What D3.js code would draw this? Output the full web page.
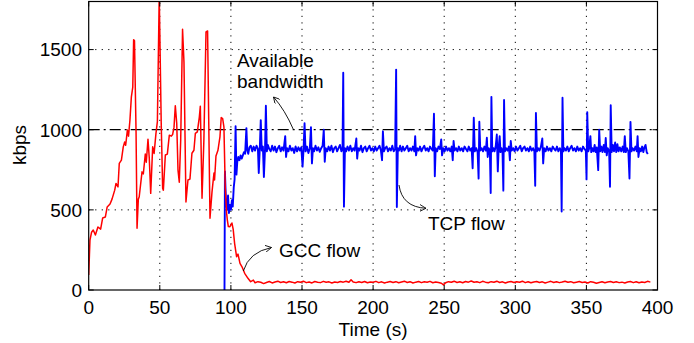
<!DOCTYPE html>
<html>
<head>
<meta charset="utf-8">
<script src="https://cdn.jsdelivr.net/npm/d3@7"></script>
<style>
  body { margin: 0; background: #fff; }
  svg text { font-family: "Liberation Sans", Arial, sans-serif; font-size: 19px; fill: #000; }
</style>
</head>
<body>
<div id="chart"></div>
<script>
// axis ticks
var xTicks = [0, 50, 100, 150, 200, 250, 300, 350, 400];
var yTicks = [0, 500, 1000, 1500];
var availableBandwidth = 1000;

// GCC flow (red): [time s, kbps]
var gccFlow = [
  [0, 94], [0.9, 312], [2, 360], [3.2, 374], [4.7, 343], [6.5, 393], [8.4, 380], [9.8, 449],
  [11.7, 455], [13, 518], [15, 536], [16.4, 567], [18.3, 623], [19.2, 665], [20.6, 643],
  [21.5, 790], [23, 810], [24.3, 893], [25.3, 924], [26, 903], [27.2, 998], [28, 960],
  [29, 1060], [30, 1205], [31, 1266], [31.6, 1562], [32.2, 1555], [33.3, 986], [34, 385],
  [34.9, 567], [35.5, 580], [37.5, 737], [38.4, 724], [39.8, 848], [40.5, 797], [41.7, 941],
  [42.6, 822], [43.6, 603], [45, 893], [46, 852], [47.3, 977], [48.3, 1050], [49.6, 1840],
  [51, 1040], [52, 635], [52.5, 623], [53.9, 842], [55.3, 848], [56.7, 966], [58.1, 960],
  [59, 970], [60, 1016], [60.9, 1150], [61.9, 1040], [62.8, 748], [63.7, 673], [64.7, 935],
  [66, 1627], [67, 1420], [68.4, 549], [69.8, 686], [71.2, 692], [72.6, 853], [74, 872],
  [75, 977], [76.4, 987], [77.8, 1079], [78.5, 1147], [79.7, 573], [81, 935], [82.5, 1610],
  [83.6, 1616], [85.3, 448], [86.7, 611], [88.1, 730], [88.5, 686], [89.5, 836], [90.9, 872],
  [92.3, 956], [93.2, 1076], [94.2, 1070], [95.1, 1016], [96, 643], [97, 479], [97.5, 436],
  [98.2, 396], [99.3, 395], [100.7, 418], [101.6, 380], [102.6, 291], [104, 208], [105, 224],
  [106.4, 166], [107.8, 145], [109.7, 104], [112, 73], [113.9, 52], [115.8, 62],
  [117, 45], [119, 52], [121, 48], [123, 40], [125, 47], [127, 53], [129, 44], [131, 50],
  [133, 55], [135, 47], [137, 51], [139, 45], [141, 53], [143, 49], [145, 44], [147, 52],
  [149, 48], [151, 55], [153, 46], [155, 50], [157, 44], [159, 53], [161, 49], [163, 46],
  [165, 54], [167, 48], [169, 51], [171, 44], [173, 50], [175, 47], [177, 53], [179, 49],
  [181, 55], [183, 48], [184.5, 64], [186, 50], [188, 46], [190, 52], [192, 47], [194, 53],
  [196, 45], [198, 50], [200, 48], [202, 54], [204, 46], [206, 51], [208, 44], [210, 49],
  [212, 53], [214, 47], [216, 52], [218, 45], [220, 50], [222, 55], [224, 47], [226, 52],
  [228, 44], [230, 49], [232, 53], [234, 46], [236, 51], [238, 48], [240, 54], [242, 45],
  [244, 50], [246, 47], [248, 42], [249.5, 32], [251, 45], [253, 52], [255, 48], [257, 55],
  [259, 47], [261, 51], [263, 45], [265, 53], [267, 49], [269, 56], [271, 48], [273, 52],
  [275, 46], [277, 54], [279, 49], [281, 45], [283, 52], [285, 48], [287, 55], [289, 47],
  [291, 51], [293, 44], [295, 50], [297, 53], [299, 47], [301, 52], [303, 48], [305, 55],
  [307, 46], [309, 51], [311, 45], [313, 50], [315, 53], [317, 47], [319, 51], [321, 44],
  [323, 49], [325, 54], [327, 47], [329, 52], [331, 46], [333, 50], [335, 55], [337, 48],
  [339, 52], [341, 45], [343, 49], [345, 53], [347, 47], [349, 50], [351, 44], [353, 52],
  [355, 48], [357, 42], [359, 47], [361, 51], [363, 45], [365, 50], [367, 53], [369, 47],
  [371, 51], [373, 46], [375, 49], [377, 44], [379, 50], [381, 53], [383, 46], [385, 51],
  [387, 45], [389, 50], [391, 47], [393, 54], [395, 49]
];

// TCP flow (blue): [time s, kbps]
var tcpFlow = [
  [95.5, 0], [95.8, 740], [96.5, 560], [97.3, 500], [98, 590], [98.6, 480], [99.3, 530],
  [100, 500], [100.7, 560], [101.3, 520], [102, 640], [102.6, 690], [103.3, 1022], [103.9, 720],
  [104.5, 800], [105.2, 830], [106, 810], [106.8, 840], [107.6, 820], [108.4, 840], [109.2, 860],
  [110, 850], [110.9, 1010], [111.5, 870], [112.2, 850], [113, 890], [114, 900], [115, 865],
  [116, 895], [117, 870], [118, 900], [119, 880], [119.6, 730], [120.3, 880], [121, 1060],
  [121.7, 870], [122.5, 895], [123.2, 705], [124, 880], [124.6, 1150], [125.3, 865], [126, 905],
  [127, 880], [128, 865], [129, 900], [130, 870], [131, 895], [132, 860], [133, 885], [134, 900],
  [135, 865], [136, 890], [137, 870], [138.2, 960], [138.8, 830], [139.5, 885], [140.5, 865],
  [141.5, 900], [142.5, 870], [143.5, 885], [144.5, 855], [145.5, 895], [146.5, 865],
  [147.5, 890], [148.5, 870], [149.5, 890], [150.4, 770], [151.1, 880], [151.8, 1040],
  [152.5, 865], [153.5, 895], [154.5, 855], [155.5, 885], [156.3, 1015], [157, 790],
  [157.7, 885], [158.5, 865], [159.5, 900], [160.5, 870], [161.5, 890], [162.5, 862],
  [163.5, 885], [164.5, 900], [165.3, 1000], [166, 800], [166.7, 885], [167.7, 865],
  [168.7, 895], [169.7, 870], [170.7, 900], [171.7, 860], [172.7, 885], [173.7, 895],
  [174.7, 865], [175.7, 885], [176.7, 905], [177.7, 865], [178.5, 880], [179, 1355],
  [179.5, 520], [180.2, 885], [181, 865], [182, 895], [183, 870], [184, 900], [185, 865],
  [186, 885], [187, 870], [188.2, 945], [188.8, 820], [189.5, 885], [190.5, 870], [191.5, 900],
  [192.5, 860], [193.5, 885], [194.5, 895], [195.5, 865], [196.5, 885], [197.5, 900],
  [198.5, 870], [199.5, 885], [200.5, 865], [201.5, 895], [202.5, 870], [203.5, 885],
  [204.5, 900], [205.5, 870], [206.3, 810], [206.9, 990], [207.6, 865], [208.5, 885],
  [209.5, 895], [210.5, 865], [211.5, 885], [212.5, 870], [213.5, 900], [214.5, 865],
  [215.5, 880], [216.2, 1375], [216.7, 518], [217.4, 885], [218.2, 870], [219, 900], [220, 865],
  [221, 895], [222, 870], [223, 885], [224, 900], [225, 865], [226, 885], [227, 870], [228, 895],
  [229, 865], [229.6, 960], [230.2, 840], [231, 885], [232, 870], [233, 895], [234, 865],
  [235, 885], [236, 900], [237, 870], [238, 885], [239, 865], [240, 895], [241, 880], [242, 870],
  [242.8, 1100], [243.4, 710], [244, 885], [245, 865], [246, 895], [247, 880], [247.9, 940],
  [248.5, 840], [249.3, 885], [250.3, 865], [251.3, 895], [252.3, 870], [253.3, 885],
  [254.3, 865], [255.3, 895], [256, 810], [256.6, 930], [257.3, 870], [258.3, 885], [259.3, 865],
  [260.3, 895], [261.3, 870], [262.3, 885], [263.3, 865], [264.3, 895], [265.3, 880],
  [266.3, 865], [267.3, 895], [268.3, 870], [269.3, 885], [270, 760], [270.8, 1075],
  [271.5, 865], [272.5, 885], [273.5, 860], [274.2, 695], [274.7, 1050], [275.4, 870],
  [276.3, 885], [277.3, 865], [278.3, 895], [279.3, 870], [280, 950], [280.6, 830], [281.3, 885],
  [282.1, 870], [282.7, 605], [283.2, 1205], [283.8, 865], [284.6, 885], [285.4, 865],
  [286.2, 895], [287, 970], [287.7, 740], [288.3, 885], [289, 960], [289.6, 860], [290.3, 885],
  [291, 865], [291.6, 620], [292.1, 1185], [292.7, 865], [293.5, 885], [294.5, 870],
  [295.5, 895], [296.2, 810], [296.8, 930], [297.5, 870], [298.5, 885], [299.5, 865],
  [300.5, 895], [301.5, 870], [302.5, 885], [303.5, 900], [304.5, 865], [305.5, 885],
  [306.5, 895], [307.5, 870], [308.5, 885], [309.5, 865], [310.5, 895], [311.5, 870],
  [312.5, 885], [313.4, 865], [314, 650], [314.5, 1105], [315.2, 865], [316, 885], [317, 870],
  [318, 895], [319, 945], [319.6, 790], [320.3, 885], [321.3, 865], [322.3, 895], [323.3, 870],
  [324.3, 885], [325.3, 865], [326.3, 895], [327.3, 880], [328.3, 870], [329.3, 895],
  [330.3, 865], [331.3, 885], [332.1, 870], [332.6, 490], [333.2, 1200], [333.8, 865],
  [334.6, 885], [335.6, 870], [336.6, 895], [337.6, 865], [338.6, 885], [339.6, 900],
  [340.6, 870], [341.6, 885], [342.6, 865], [343.6, 895], [344.6, 870], [345.6, 885],
  [346.6, 865], [347.6, 895], [348.6, 880], [349.6, 870], [350.1, 690], [350.6, 1110],
  [351.3, 865], [352, 885], [352.8, 960], [353.4, 860], [354.2, 885], [355, 865], [355.8, 905],
  [356.5, 860], [357.3, 890], [358.3, 748], [359, 1000], [359.7, 865], [360.5, 895],
  [361.3, 860], [362.2, 905], [363, 860], [363.6, 948], [364.3, 840], [365, 885], [366, 865],
  [366.6, 644], [367.1, 1153], [367.8, 860], [368.6, 905], [369.4, 865], [370.2, 920],
  [371, 860], [371.8, 910], [372.6, 865], [373.5, 890], [374.5, 865], [375.5, 895],
  [376.3, 860], [377, 960], [377.7, 860], [378.5, 885], [379.5, 865], [380.3, 696],
  [381, 1049], [381.7, 865], [382.5, 885], [383.5, 870], [384.5, 895], [385.4, 865],
  [386, 960], [386.6, 830], [387.4, 885], [388.3, 865], [389.2, 895], [390, 860], [390.8, 890],
  [391.6, 905], [392.4, 860], [393.2, 848]
];

function init() {
    const w = 694;
    const h = 343;
    const left = 88.7, right = 657.5, top = 1.5, bottom = 290;

    var svg = d3.select("#chart")
        .append("svg")
        .attr("width", w)
        .attr("height", h);

    var xScale = d3.scaleLinear().domain([0, 400]).range([left, right]);
    var yScale = d3.scaleLinear().domain([0, 1800]).range([bottom, top]);

    svg.append("defs").append("clipPath")
        .attr("id", "plot-clip")
        .append("rect")
        .attr("x", left).attr("y", top)
        .attr("width", right - left).attr("height", bottom - top);

    // dotted grid
    var grid = svg.append("g")
        .attr("stroke", "#000")
        .attr("stroke-width", 1)
        .attr("stroke-dasharray", "1.2,5.3");
    grid.selectAll("line.vx")
        .data(xTicks.filter((d) => d > 0 && d < 400))
        .enter().append("line")
        .attr("x1", (d) => xScale(d)).attr("x2", (d) => xScale(d))
        .attr("y1", bottom).attr("y2", top);
    grid.selectAll("line.hy")
        .data(yTicks.filter((d) => d > 0 && d !== availableBandwidth))
        .enter().append("line")
        .attr("x1", left).attr("x2", right)
        .attr("y1", (d) => yScale(d)).attr("y2", (d) => yScale(d));

    // available bandwidth, dash-dot
    svg.append("line")
        .attr("x1", left).attr("x2", right)
        .attr("y1", yScale(availableBandwidth)).attr("y2", yScale(availableBandwidth))
        .attr("stroke", "#000")
        .attr("stroke-width", 1.3)
        .attr("stroke-dasharray", "11,4,2,4");

    var line = d3.line()
        .x((d) => xScale(d[0]))
        .y((d) => yScale(d[1]));

    var plot = svg.append("g").attr("clip-path", "url(#plot-clip)");

    plot.append("path")
        .datum(tcpFlow)
        .attr("d", line)
        .attr("fill", "none")
        .attr("stroke", "#0000ff")
        .attr("stroke-width", 1.9)
        .attr("stroke-linejoin", "round");

    plot.append("path")
        .datum(gccFlow)
        .attr("d", line)
        .attr("fill", "none")
        .attr("stroke", "#ff0000")
        .attr("stroke-width", 1.5)
        .attr("stroke-linejoin", "round");

    // frame
    svg.append("rect")
        .attr("x", left).attr("y", top)
        .attr("width", right - left).attr("height", bottom - top)
        .attr("fill", "none")
        .attr("stroke", "#000")
        .attr("stroke-width", 1.2);

    // inward ticks on all sides
    var ticks = svg.append("g").attr("stroke", "#000").attr("stroke-width", 1);
    xTicks.forEach((d) => {
        ticks.append("line").attr("x1", xScale(d)).attr("x2", xScale(d)).attr("y1", bottom).attr("y2", bottom - 5);
        ticks.append("line").attr("x1", xScale(d)).attr("x2", xScale(d)).attr("y1", top).attr("y2", top + 5);
    });
    yTicks.forEach((d) => {
        ticks.append("line").attr("x1", left).attr("x2", left + 5).attr("y1", yScale(d)).attr("y2", yScale(d));
        ticks.append("line").attr("x1", right).attr("x2", right - 5).attr("y1", yScale(d)).attr("y2", yScale(d));
    });

    // tick labels
    svg.selectAll("text.xt")
        .data(xTicks)
        .enter().append("text")
        .attr("x", (d) => xScale(d))
        .attr("y", 313.5)
        .attr("text-anchor", "middle")
        .text((d) => d);

    svg.selectAll("text.yt")
        .data(yTicks)
        .enter().append("text")
        .attr("x", 82)
        .attr("y", (d) => yScale(d) + 6.8)
        .attr("text-anchor", "end")
        .text((d) => d);

    // axis titles
    svg.append("text")
        .attr("x", (left + right) / 2)
        .attr("y", 336)
        .attr("text-anchor", "middle")
        .text("Time (s)");

    svg.append("text")
        .attr("transform", "translate(26,145) rotate(-90)")
        .attr("text-anchor", "middle")
        .text("kbps");

    // annotations
    svg.append("text").attr("x", 237).attr("y", 66.5).text("Available");
    svg.append("text").attr("x", 237).attr("y", 88).text("bandwidth");
    svg.append("text").attr("x", 279).attr("y", 256.5).text("GCC flow");
    svg.append("text").attr("x", 428).attr("y", 230).text("TCP flow");

    svg.append("defs").append("marker")
        .attr("id", "arrow")
        .attr("viewBox", "0 0 10 10")
        .attr("refX", 9).attr("refY", 5)
        .attr("markerWidth", 7).attr("markerHeight", 7)
        .attr("markerUnits", "userSpaceOnUse")
        .attr("orient", "auto")
        .append("path")
        .attr("d", "M0,0 L9,5 L0,10")
        .attr("fill", "none")
        .attr("stroke", "#000")
        .attr("stroke-width", 1.2);

    var arrows = [
        "M293.3,129.3 Q285,110 273.5,97",
        "M243.3,271 Q249,252 271.5,247.5",
        "M399,185 Q402,207 426,208.3"
    ];
    svg.selectAll("path.arrow")
        .data(arrows)
        .enter().append("path")
        .attr("d", (d) => d)
        .attr("fill", "none")
        .attr("stroke", "#000")
        .attr("stroke-width", 0.9)
        .attr("marker-end", "url(#arrow)");
}
window.onload = init;
</script>
</body>
</html>
